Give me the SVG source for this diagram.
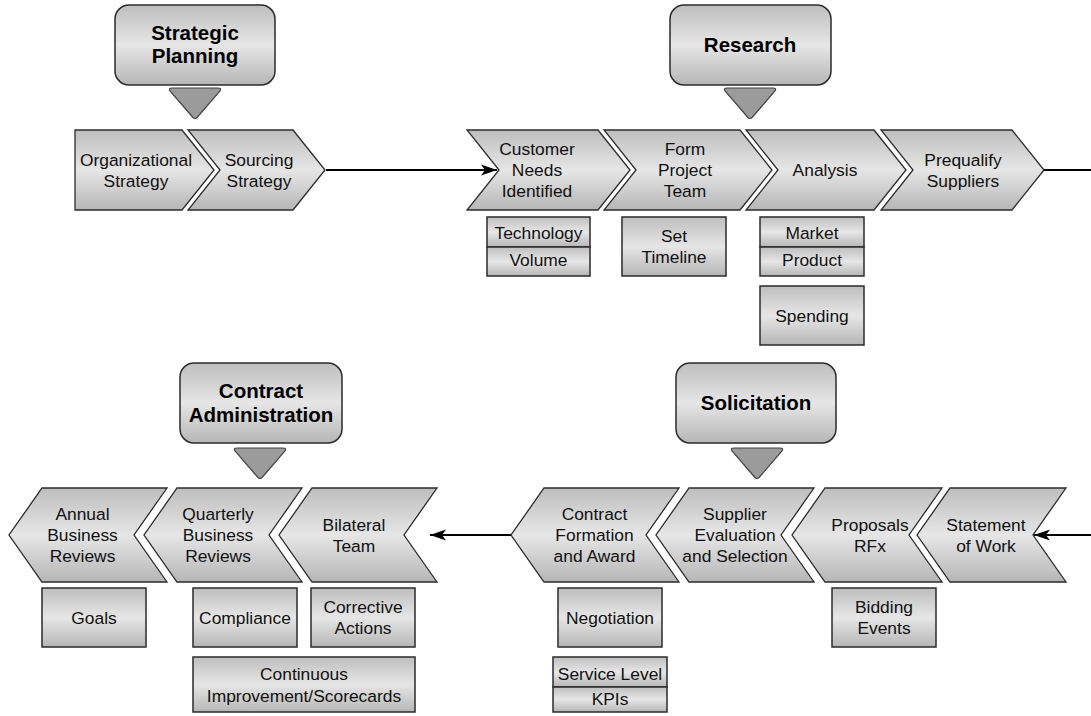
<svg xmlns="http://www.w3.org/2000/svg" width="1091" height="716" viewBox="0 0 1091 716">
<defs>
<linearGradient id="g" x1="0" y1="0" x2="0" y2="1">
<stop offset="0" stop-color="#bebebe"/>
<stop offset="0.5" stop-color="#e6e6e6"/>
<stop offset="1" stop-color="#b6b6b6"/>
</linearGradient>
<path id="tri" d="M4,0 L50,0 Q54,0 52,3 L29.5,29 Q27,32 24.5,29 L2,3 Q0,0 4,0 Z"/>
<marker id="ah" markerUnits="userSpaceOnUse" markerWidth="17" markerHeight="12" refX="16" refY="6" orient="auto">
<path d="M0,0.5 L16,6 L0,11.5 L4,6 Z" fill="#000"/>
</marker>
<style>
.ch{fill:url(#g);stroke:#2b2b2b;stroke-width:1.3;stroke-linejoin:miter}
.bx{fill:url(#g);stroke:#2b2b2b;stroke-width:1.5}
.hd{fill:url(#g);stroke:#2b2b2b;stroke-width:1.5}
.tr{fill:#9b9b9b;stroke:#444;stroke-width:1.2}
.t{font-family:"Liberation Sans",Arial,sans-serif;font-size:17.4px;fill:#111;text-anchor:middle}
.h{font-weight:bold;font-size:20.5px;fill:#000}
.ln{stroke:#000;stroke-width:2.2;fill:none}
</style>
</defs>

<!-- Header nodes -->
<g id="hdr-strategic">
<rect class="hd" x="115" y="5" width="160" height="80" rx="14"/>
<text class="t h" x="195" y="40">Strategic</text>
<text class="t h" x="195" y="63">Planning</text>
<use href="#tri" class="tr" x="168" y="88"/>
</g>
<g id="hdr-research">
<rect class="hd" x="670" y="5" width="161" height="80" rx="14"/>
<text class="t h" x="750" y="52">Research</text>
<use href="#tri" class="tr" x="723" y="88"/>
</g>
<g id="hdr-contract">
<rect class="hd" x="180" y="363" width="162" height="80" rx="14"/>
<text class="t h" x="261" y="398">Contract</text>
<text class="t h" x="261" y="422">Administration</text>
<use href="#tri" class="tr" x="233" y="448"/>
</g>
<g id="hdr-solicitation">
<rect class="hd" x="676" y="363" width="160" height="80" rx="14"/>
<text class="t h" x="756" y="410">Solicitation</text>
<use href="#tri" class="tr" x="730" y="448"/>
</g>

<!-- Top row chevrons -->
<g id="n-org">
<polygon class="ch" points="75,130 182,130 214,170 182,210 75,210"/>
<text class="t" x="136" y="166">Organizational</text>
<text class="t" x="136" y="187">Strategy</text>
</g>
<g id="n-sourcing">
<polygon class="ch" points="188,130 293,130 325,170 293,210 188,210 220,170"/>
<text class="t" x="259" y="166">Sourcing</text>
<text class="t" x="259" y="187">Strategy</text>
</g>
<g id="n-customer">
<polygon class="ch" points="467,130 598,130 630,170 598,210 467,210 499,170"/>
<text class="t" x="537" y="155">Customer</text>
<text class="t" x="537" y="176">Needs</text>
<text class="t" x="537" y="197">Identified</text>
</g>
<g id="n-form">
<polygon class="ch" points="604,130 740,130 772,170 740,210 604,210 636,170"/>
<text class="t" x="685" y="155">Form</text>
<text class="t" x="685" y="176">Project</text>
<text class="t" x="685" y="197">Team</text>
</g>
<g id="n-analysis">
<polygon class="ch" points="746,130 874,130 906,170 874,210 746,210 778,170"/>
<text class="t" x="825" y="176">Analysis</text>
</g>
<g id="n-prequalify">
<polygon class="ch" points="881,130 1012,130 1044,170 1012,210 881,210 913,170"/>
<text class="t" x="963" y="166">Prequalify</text>
<text class="t" x="963" y="187">Suppliers</text>
</g>

<!-- Top sub-boxes -->
<g id="s-techvol">
<rect class="bx" x="487" y="217" width="103" height="30"/>
<rect class="bx" x="487" y="247" width="103" height="29"/>
<text class="t" x="538.5" y="239">Technology</text>
<text class="t" x="538.5" y="266">Volume</text>
</g>
<g id="s-timeline">
<rect class="bx" x="622" y="217" width="104" height="59"/>
<text class="t" x="674" y="242">Set</text>
<text class="t" x="674" y="263">Timeline</text>
</g>
<g id="s-marketproduct">
<rect class="bx" x="760" y="217" width="104" height="30"/>
<rect class="bx" x="760" y="247" width="104" height="29"/>
<text class="t" x="812" y="239">Market</text>
<text class="t" x="812" y="266">Product</text>
</g>
<g id="s-spending">
<rect class="bx" x="760" y="286" width="104" height="59"/>
<text class="t" x="812" y="321.5">Spending</text>
</g>

<!-- Bottom row chevrons -->
<g id="n-annual">
<polygon class="ch" points="42,488 167,488 134,535 167,582 42,582 9,535"/>
<text class="t" x="82.5" y="520">Annual</text>
<text class="t" x="82.5" y="541">Business</text>
<text class="t" x="82.5" y="562">Reviews</text>
</g>
<g id="n-quarterly">
<polygon class="ch" points="177,488 302,488 269,535 302,582 177,582 144,535"/>
<text class="t" x="218" y="520">Quarterly</text>
<text class="t" x="218" y="541">Business</text>
<text class="t" x="218" y="562">Reviews</text>
</g>
<g id="n-bilateral">
<polygon class="ch" points="312,488 437,488 404,535 437,582 312,582 279,535"/>
<text class="t" x="354" y="530.5">Bilateral</text>
<text class="t" x="354" y="551.5">Team</text>
</g>
<g id="n-contractformation">
<polygon class="ch" points="544,488 679,488 646,535 679,582 544,582 511,535"/>
<text class="t" x="594.5" y="520">Contract</text>
<text class="t" x="594.5" y="541">Formation</text>
<text class="t" x="594.5" y="562">and Award</text>
</g>
<g id="n-supplier">
<polygon class="ch" points="689,488 814,488 781,535 814,582 689,582 656,535"/>
<text class="t" x="735" y="520">Supplier</text>
<text class="t" x="735" y="541">Evaluation</text>
<text class="t" x="735" y="562">and Selection</text>
</g>
<g id="n-proposals">
<polygon class="ch" points="825,488 942,488 909,535 942,582 825,582 792,535"/>
<text class="t" x="870" y="530.5">Proposals</text>
<text class="t" x="870" y="551.5">RFx</text>
</g>
<g id="n-statement">
<polygon class="ch" points="950,488 1066,488 1033,535 1066,582 950,582 917,535"/>
<text class="t" x="986" y="530.5">Statement</text>
<text class="t" x="986" y="551.5">of Work</text>
</g>

<!-- Bottom sub-boxes -->
<g id="s-goals">
<rect class="bx" x="42" y="588" width="104" height="59"/>
<text class="t" x="94" y="623.5">Goals</text>
</g>
<g id="s-compliance">
<rect class="bx" x="193" y="588" width="104" height="59"/>
<text class="t" x="245" y="623.5">Compliance</text>
</g>
<g id="s-corrective">
<rect class="bx" x="311" y="588" width="104" height="59"/>
<text class="t" x="363" y="613">Corrective</text>
<text class="t" x="363" y="634">Actions</text>
</g>
<g id="s-continuous">
<rect class="bx" x="193" y="657" width="222" height="55"/>
<text class="t" x="304" y="680">Continuous</text>
<text class="t" x="304" y="702">Improvement/Scorecards</text>
</g>
<g id="s-negotiation">
<rect class="bx" x="558" y="588" width="104" height="59"/>
<text class="t" x="610" y="623.5">Negotiation</text>
</g>
<g id="s-servicelevel">
<rect class="bx" x="553" y="657" width="114" height="30"/>
<rect class="bx" x="553" y="687" width="114" height="25"/>
<text class="t" x="610" y="680">Service Level</text>
<text class="t" x="610" y="705">KPIs</text>
</g>
<g id="s-bidding">
<rect class="bx" x="832" y="588" width="104" height="59"/>
<text class="t" x="884" y="613">Bidding</text>
<text class="t" x="884" y="634">Events</text>
</g>

<!-- Connectors -->
<g id="connectors">
<line class="ln" x1="326" y1="170" x2="497" y2="170" marker-end="url(#ah)"/>
<line class="ln" x1="1044" y1="170" x2="1091" y2="170"/>
<line class="ln" x1="1091" y1="535" x2="1034" y2="535" marker-end="url(#ah)"/>
<line class="ln" x1="511" y1="535" x2="430" y2="535" marker-end="url(#ah)"/>
</g>
</svg>
